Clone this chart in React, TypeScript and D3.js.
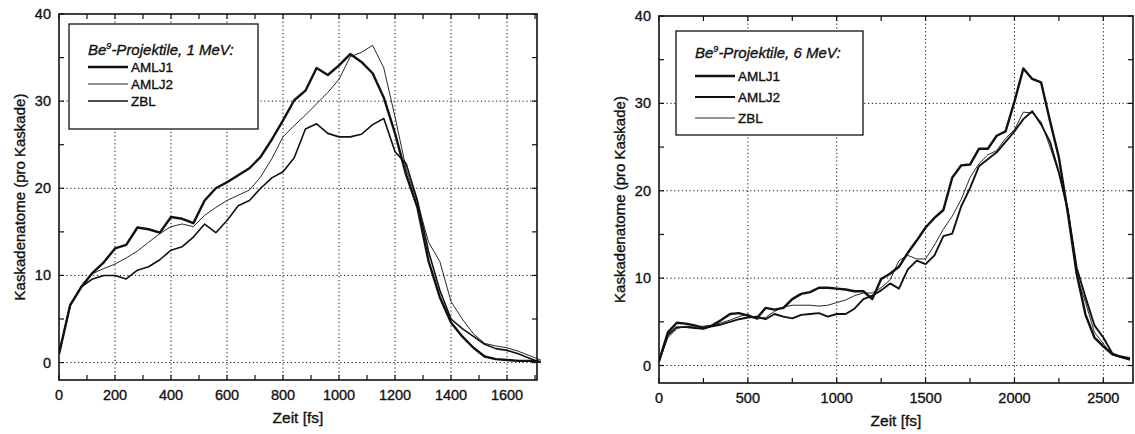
import React from "react";
import * as d3 from "d3";

// left panel: Be9, 1 MeV
const timeA = [
  0, 40, 80, 120, 160, 200, 240, 280, 320, 360, 400, 440, 480, 520, 560, 600, 640, 680, 720, 760,
  800, 840, 880, 920, 960, 1000, 1040, 1080, 1120, 1160, 1200, 1240, 1280, 1320, 1360, 1400, 1440,
  1480, 1520, 1560, 1600, 1640, 1680, 1720,
];
const amlj1A = [
  1.0, 6.6, 8.7, 10.3, 11.5, 13.1, 13.5, 15.5, 15.3, 14.9, 16.7, 16.5, 16.0, 18.6, 20.0, 20.7, 21.5,
  22.3, 23.6, 25.6, 27.8, 30.1, 31.2, 33.8, 33.0, 34.1, 35.4, 34.5, 33.2, 30.4, 26.3, 21.5, 17.8,
  11.6, 7.5, 4.6, 3.0, 1.7, 0.7, 0.4, 0.3, 0.2, 0.2, 0.1,
];
const amlj2A = [
  1.0, 6.6, 8.8, 10.2, 10.8, 11.3, 12.0, 12.8, 13.8, 14.8, 15.6, 15.9, 15.6, 16.9, 17.8, 18.6, 19.2,
  19.8, 21.3, 23.4, 25.9, 27.2, 28.4, 29.7, 31.0, 32.5, 35.1, 35.6, 36.4, 33.8, 28.2, 22.2, 18.4,
  13.8, 11.6, 7.0, 5.0, 3.3, 2.2, 1.9, 1.7, 1.3, 0.8, 0.3,
];
const zblA = [
  1.0, 6.6, 8.7, 9.6, 10.0, 10.0, 9.6, 10.6, 11.0, 11.8, 12.9, 13.3, 14.4, 15.9, 14.9, 16.3, 18.0,
  18.6, 20.0, 21.2, 21.9, 23.5, 26.8, 27.4, 26.3, 25.9, 25.9, 26.2, 27.3, 28.0, 24.2, 22.8, 18.6,
  12.7, 8.3, 5.0, 3.9, 3.0, 2.1, 1.6, 1.4, 1.0, 0.5, 0.0,
];

// right panel: Be9, 6 MeV
const timeB = [
  0, 50, 100, 150, 200, 250, 300, 350, 400, 450, 500, 550, 600, 650, 700, 750, 800, 850, 900, 950,
  1000, 1050, 1100, 1150, 1200, 1250, 1300, 1350, 1400, 1450, 1500, 1550, 1600, 1650, 1700, 1750,
  1800, 1850, 1900, 1950, 2000, 2050, 2100, 2150, 2200, 2250, 2300, 2350, 2400, 2450, 2500, 2550,
  2600, 2650,
];
const amlj1B = [
  0.5, 3.8, 4.9, 4.8, 4.6, 4.3, 4.6, 5.2, 5.9, 6.0, 5.7, 5.4, 6.6, 6.4, 6.6, 7.6, 8.2, 8.4, 8.9, 8.9,
  8.8, 8.7, 8.5, 8.5, 7.6, 9.9, 10.5, 11.3, 12.9, 14.3, 15.8, 16.9, 17.8, 21.5, 22.9, 23.0, 24.8,
  24.8, 26.3, 26.8, 30.2, 34.0, 32.8, 32.4, 28.0, 23.8, 17.5, 10.5, 5.8, 3.2, 2.2, 1.3, 1.0, 0.8,
];
const amlj2B = [
  0.5, 3.5, 4.4, 4.4, 4.3, 4.2, 4.5, 4.7, 5.0, 5.3, 5.5, 5.6, 5.3, 5.9, 5.6, 5.4, 5.8, 5.9, 6.0, 5.6,
  5.9, 5.9, 6.5, 7.6, 8.0, 8.6, 9.4, 8.8, 11.0, 12.0, 11.6, 12.6, 14.8, 15.1, 18.2, 20.3, 22.8, 23.6,
  24.4, 25.6, 26.8, 28.2, 29.1, 27.6, 25.6, 22.1, 17.8, 11.2, 7.8, 4.6, 3.2, 1.4, 1.0, 0.7,
];
const zblB = [
  0.5, 3.2, 4.2, 4.5, 4.4, 4.5, 4.6, 4.9, 5.2, 5.6, 5.9, 5.3, 5.5, 6.2, 6.7, 6.9, 6.9, 6.9, 6.8, 6.9,
  7.2, 7.5, 8.0, 8.3, 8.3, 8.9, 9.8, 12.0, 12.6, 12.2, 12.2, 13.8, 15.6, 17.1, 19.0, 21.5, 23.1, 24.1,
  24.6, 26.0, 27.0, 29.0, 28.9, 27.9, 25.0, 22.0, 18.0, 10.3, 7.2, 3.8, 2.5, 1.2, 0.9, 0.6,
];

const seriesNames = ["AMLJ1", "AMLJ2", "ZBL"];
const yMajor = [0, 10, 20, 30, 40];
const yMinor = [5, 15, 25, 35];
const xMajorA = [0, 200, 400, 600, 800, 1000, 1200, 1400, 1600];
const xMinorA = [100, 300, 500, 700, 900, 1100, 1300, 1500, 1700];
const xMajorB = [0, 500, 1000, 1500, 2000, 2500];
const xMinorB = [250, 750, 1250, 1750, 2250];

const INK = "#111";
const FONT = "'Liberation Sans', Arial, Helvetica, sans-serif";

type PanelProps = {
  left: number;
  right: number;
  top: number;
  bottom: number;
  xMax: number;
  time: number[];
  series: number[][];
  widths: number[];
  xMajor: number[];
  xMinor: number[];
  energy: string;
  legend: { x: number; y: number; w: number; h: number; titleY: number; rows: number[] };
};

function Panel(p: PanelProps) {
  const x = d3.scaleLinear().domain([0, p.xMax]).range([p.left, p.right]);
  const y = d3.scaleLinear().domain([-2, 40]).range([p.bottom, p.top]);

  const line = (vals: number[]) =>
    d3
      .line<number>()
      .x((_, i) => x(p.time[i]))
      .y((v) => y(v))(vals) ?? "";

  const tick = 5;
  const L = p.legend;
  const cx = (p.left + p.right) / 2;
  // scanned text looks heavy, so a thin outline
  const txt = { fontFamily: FONT, fill: INK, stroke: INK, strokeWidth: 0.35 };

  return (
    <g>
      <defs>
        <clipPath id={`clip-${p.left}`}>
          <rect x={p.left} y={p.top} width={p.right - p.left + 8} height={p.bottom - p.top} />
        </clipPath>
      </defs>
      {/* grid */}
      {p.xMajor
        .filter((v) => v > 0)
        .map((v) => (
          <line key={"gx" + v} x1={x(v)} x2={x(v)} y1={p.top} y2={p.bottom} stroke={INK}
            strokeWidth={1} strokeDasharray="1.2,2.6" />
        ))}
      {yMajor
        .filter((v) => v < 40)
        .map((v) => (
          <line key={"gy" + v} x1={p.left} x2={p.right} y1={y(v)} y2={y(v)} stroke={INK}
            strokeWidth={1} strokeDasharray="1.2,2.6" />
        ))}
      {/* ticks, inward on all sides */}
      {[...p.xMajor, ...p.xMinor]
        .filter((v) => v <= p.xMax)
        .map((v) => (
          <g key={"tx" + v}>
            <line x1={x(v)} x2={x(v)} y1={p.bottom} y2={p.bottom - tick} stroke={INK} strokeWidth={1.2} />
            <line x1={x(v)} x2={x(v)} y1={p.top} y2={p.top + tick} stroke={INK} strokeWidth={1.2} />
          </g>
        ))}
      {[...yMajor, ...yMinor].map((v) => (
        <g key={"ty" + v}>
          <line x1={p.left} x2={p.left + tick} y1={y(v)} y2={y(v)} stroke={INK} strokeWidth={1.2} />
          <line x1={p.right} x2={p.right - tick} y1={y(v)} y2={y(v)} stroke={INK} strokeWidth={1.2} />
        </g>
      ))}
      {/* data */}
      <g clipPath={`url(#clip-${p.left})`}>
        {p.series.map((s, i) => (
          <path key={seriesNames[i]} d={line(s)} fill="none" stroke={INK} strokeWidth={p.widths[i]}
            strokeLinejoin="round" />
        ))}
      </g>
      {/* frame */}
      <rect x={p.left} y={p.top} width={p.right - p.left} height={p.bottom - p.top} fill="none"
        stroke={INK} strokeWidth={1.6} />
      {/* tick labels */}
      {p.xMajor.map((v) => (
        <text key={"lx" + v} x={x(v)} y={p.bottom + 20} textAnchor="middle" fontSize={14.5} {...txt}>
          {v}
        </text>
      ))}
      {yMajor.map((v) => (
        <text key={"ly" + v} x={p.left - 8} y={y(v) + 5} textAnchor="end" fontSize={14.5} {...txt}>
          {v}
        </text>
      ))}
      {/* axis titles */}
      <text x={cx} y={p.bottom + 43} textAnchor="middle" fontSize={15.5} {...txt}>
        Zeit [fs]
      </text>
      <text transform={`translate(${p.left - 34},${(p.top + p.bottom) / 2}) rotate(-90)`}
        textAnchor="middle" fontSize={15} {...txt}>
        Kaskadenatome (pro Kaskade)
      </text>
      {/* legend */}
      <rect x={L.x} y={L.y} width={L.w} height={L.h} fill="#fff" stroke={INK} strokeWidth={1.3} />
      <text x={L.x + 19} y={L.titleY} fontSize={15} fontStyle="italic" {...txt}>
        Be<tspan dy={-6} fontSize={9}>9</tspan>
        <tspan dy={6}>{`-Projektile, ${p.energy}:`}</tspan>
      </text>
      {seriesNames.map((n, i) => (
        <g key={"leg" + n}>
          <line x1={L.x + 19} x2={L.x + 59} y1={L.rows[i]} y2={L.rows[i]} stroke={INK}
            strokeWidth={p.widths[i]} />
          <text x={L.x + 62} y={L.rows[i] + 5} fontSize={13.5} {...txt}>
            {n}
          </text>
        </g>
      ))}
    </g>
  );
}

export default function App() {
  return (
    <svg width={1135} height={434} style={{ display: "block", position: "absolute", left: 0, top: 0 }}>
      <rect width={1135} height={434} fill="#fff" />
      <Panel
        left={59}
        right={537}
        top={14}
        bottom={380}
        xMax={1707}
        time={timeA}
        series={[amlj1A, amlj2A, zblA]}
        widths={[2.4, 0.9, 1.6]}
        xMajor={xMajorA}
        xMinor={xMinorA}
        energy="1 MeV"
        legend={{ x: 69, y: 24, w: 189, h: 105, titleY: 55, rows: [67, 84, 101] }}
      />
      <Panel
        left={659}
        right={1133}
        top={16}
        bottom={383}
        xMax={2667}
        time={timeB}
        series={[amlj1B, amlj2B, zblB]}
        widths={[2.4, 1.9, 0.9]}
        xMajor={xMajorB}
        xMinor={xMinorB}
        energy="6 MeV"
        legend={{ x: 676, y: 31, w: 187, h: 104, titleY: 58, rows: [76, 97, 118] }}
      />
    </svg>
  );
}
